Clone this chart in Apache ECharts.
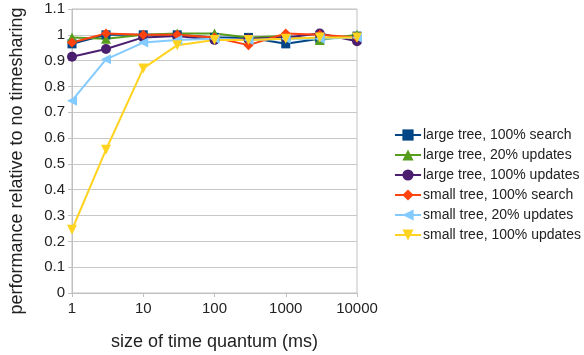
<!DOCTYPE html>
<html>
<head>
<meta charset="utf-8">
<script src="https://cdn.jsdelivr.net/npm/echarts@6/dist/echarts.min.js"></script>
<style>
html,body{margin:0;padding:0;background:#fff;}
#chart{width:584px;height:355px;}
</style>
</head>
<body>
<div id="chart"></div>
<script>
// quantum sizes (ms)
const quanta = [1, 3, 10, 30, 100, 300, 1000, 3000, 10000];
const yTicks = [0, 0.1, 0.2, 0.3, 0.4, 0.5, 0.6, 0.7, 0.8, 0.9, 1, 1.1];

const largeSearch100 = [0.965, 1.0, 1.0, 1.0, 0.99, 0.99, 0.965, 0.985, 0.995];
const largeUpdates20 = [0.99, 0.985, 1.0, 1.005, 1.005, 0.99, 0.995, 0.98, 1.0];
const largeUpdates100 = [0.915, 0.945, 0.99, 0.995, 0.98, 0.985, 0.99, 1.005, 0.975];
const smallSearch100 = [0.97, 1.005, 1.0, 1.0, 0.99, 0.96, 1.005, 1.0, 0.99];
const smallUpdates20 = [0.745, 0.905, 0.97, 0.98, 0.985, 0.98, 0.985, 0.985, 0.99];
const smallUpdates100 = [0.245, 0.555, 0.87, 0.96, 0.98, 0.98, 0.985, 0.99, 0.99];

function pairs(vals){
    return quanta.map((q, i) => [q, vals[i]]);
}

function mkSeries(name, vals, color, symbol, rot){
    return {
        name: name,
        type: 'line',
        data: pairs(vals),
        symbol: symbol,
        symbolRotate: rot || 0,
        symbolSize: symbol == 'rect' ? 9 : 10,
        lineStyle: {color: color, width: 2},
        itemStyle: {color: color},
        animation: false
    };
}

let myChart = echarts.init(document.getElementById('chart'));
let option = {
    textStyle: {fontFamily: 'Liberation Sans'},
    grid: {left: 72, right: 227, top: 9, bottom: 62, outerBoundsMode: 'none', containLabel: false,
           show: true, borderColor: '#c0c0c0', borderWidth: 1},
    legend: {
        orient: 'vertical',
        left: 389,
        top: 123,
        itemWidth: 26,
        itemHeight: 14,
        itemGap: 6,
        textStyle: {fontSize: 14, color: '#222', padding: [0, 0, 0, -3]},
        data: ['large tree, 100% search', 'large tree, 20% updates', 'large tree, 100% updates',
               'small tree, 100% search', 'small tree, 20% updates', 'small tree, 100% updates']
    },
    xAxis: {
        type: 'log',
        logBase: 10,
        min: 1,
        max: 10000,
        name: 'size of time quantum (ms)',
        nameLocation: 'middle',
        nameGap: 40,
        nameTextStyle: {fontSize: 18, color: '#222'},
        axisLine: {lineStyle: {color: '#c0c0c0'}},
        axisTick: {show: true, length: 4, lineStyle: {color: '#c0c0c0'}},
        axisLabel: {fontSize: 15, color: '#222', margin: 8, formatter: function(v){ return String(v); }},
        splitLine: {show: false},
        minorTick: {show: false}
    },
    yAxis: {
        type: 'value',
        min: 0,
        max: 1.1,
        interval: 0.1,
        name: 'performance relative to no timesharing',
        nameLocation: 'middle',
        nameGap: 46,
        nameTextStyle: {fontSize: 18, color: '#222', padding: [0, 20, 0, 0]},
        axisLine: {show: true, lineStyle: {color: '#c0c0c0'}},
        axisTick: {show: true, length: 4, lineStyle: {color: '#c0c0c0'}},
        axisLabel: {
            fontSize: 15, color: '#222', margin: 7,
            formatter: function(v){ return String(Math.round(v * 10) / 10); }
        },
        splitLine: {lineStyle: {color: '#c8c8c8'}}
    },
    series: [
        mkSeries('large tree, 100% search', largeSearch100, '#004586', 'rect'),
        mkSeries('large tree, 20% updates', largeUpdates20, '#579d1c', 'triangle'),
        mkSeries('large tree, 100% updates', largeUpdates100, '#4b1f6f', 'circle'),
        mkSeries('small tree, 100% search', smallSearch100, '#ff420e', 'diamond'),
        mkSeries('small tree, 20% updates', smallUpdates20, '#83caff', 'triangle', 90),
        mkSeries('small tree, 100% updates', smallUpdates100, '#ffd320', 'triangle', 180)
    ]
};
myChart.setOption(option);
window.addEventListener('resize', function(){ myChart.resize(); });
</script>
</body>
</html>
